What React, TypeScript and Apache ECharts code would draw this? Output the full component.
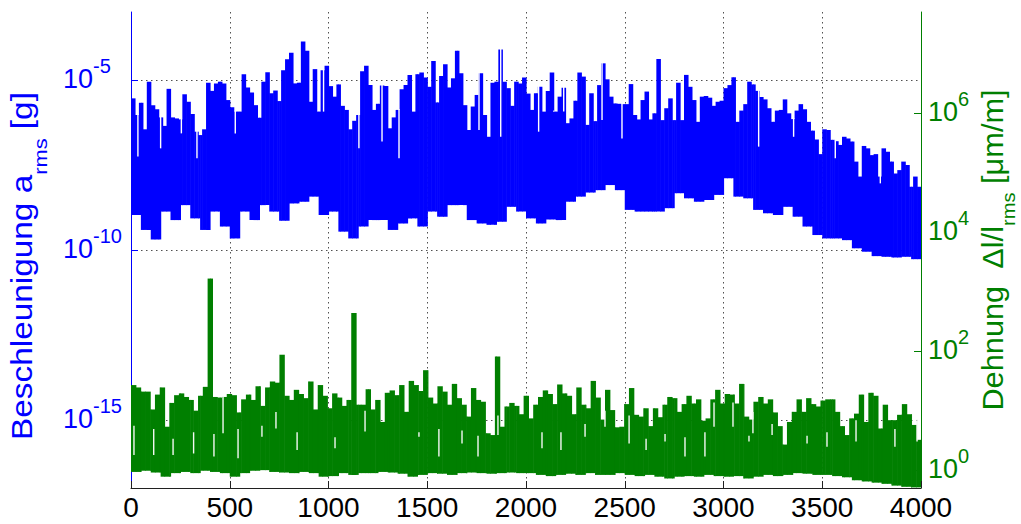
import React, { useEffect, useRef } from "react";
import * as echarts from "echarts";

// Axis ranges (log axes given as real values)
const X_MIN = 0;
const X_MAX = 4000;
const ACCEL_MIN = 1e-17;
const ACCEL_MAX = 1e-3;
const STRAIN_MIN = Math.pow(10, -0.3);
const STRAIN_MAX = Math.pow(10, 7.7);

// Tick positions
const ACCEL_TICKS = [1e-15, 1e-10, 1e-5];
const STRAIN_TICKS = [1, 1e2, 1e4, 1e6];

// log10 of a_rms [g] – upper envelope, equal steps over 0..4000
const accelUpperLog = [
  -5.54, -6.03, -5.67, -6.45, -5.05, -5.74, -5.86, -6.1, -6.35, -5.26,
  -6.1, -6.13, -6.16, -5.42, -5.64, -6.0, -6.52, -6.62, -6.45, -5.08,
  -5.32, -5.1, -5.05, -5.1, -5.59, -5.8, -5.93, -5.93, -4.83, -5.22,
  -5.37, -5.74, -6.11, -5.05, -4.77, -5.39, -5.31, -5.62, -4.71, -4.39,
  -4.2, -5.1, -5.08, -3.87, -4.14, -5.64, -4.68, -5.93, -4.71, -4.58,
  -5.18, -5.49, -5.13, -5.76, -5.88, -6.45, -6.2, -6.03, -4.74, -4.58,
  -5.15, -5.88, -5.7, -5.16, -5.18, -6.42, -6.1, -5.88, -5.27, -5.15,
  -4.85, -5.93, -4.83, -4.78, -4.93, -5.2, -4.44, -5.66, -4.88, -4.54,
  -5.22, -4.95, -4.14, -4.8, -5.74, -6.47, -5.78, -5.44, -4.8, -6.03,
  -6.67, -5.08, -5.05, -4.1, -5.05, -5.24,
  -5.76, -5.05, -5.1, -4.93, -5.4, -5.88, -5.39, -5.2, -5.93, -5.32,
  -4.78, -5.93, -5.49, -5.23, -6.27, -6.13, -5.61, -4.78, -4.9, -6.32,
  -5.39, -6.21, -5.15, -4.51, -4.98, -5.49, -5.69, -5.7, -5.71, -5.71,
  -5.12, -6.03, -6.16, -5.59, -5.34, -6.16, -5.98, -4.38, -6.18, -5.83,
  -5.54, -6.18, -5.08, -6.18, -4.85, -5.2, -5.59, -6.23, -5.49, -5.47,
  -5.52, -5.76, -5.64, -5.61, -5.24, -5.15, -4.92, -6.23, -5.9, -5.71,
  -5.05, -5.13, -5.32, -5.5, -5.57, -5.83, -6.23, -5.9, -5.88, -5.57,
  -5.98, -6.15, -5.9, -5.71, -5.86, -6.23, -6.49, -6.75, -7.18, -6.45,
  -6.47, -6.76, -6.8, -6.91, -6.67, -6.72, -6.81, -7.4, -7.84, -6.94,
  -7.01, -7.21, -7.18, -7.84, -7.01, -7.11, -7.4, -7.75, -7.65, -7.4,
  -7.5, -8.14, -7.84, -8.14,
];

// log10 of a_rms [g] – lower envelope
const accelLowerLog = [
  -8.97, -9.41, -9.69, -8.87, -9.12, -8.68, -9.07, -9.41, -8.87, -9.31,
  -9.66, -8.87, -9.12, -8.68, -8.87, -9.14, -8.63, -8.58, -8.43, -8.97,
  -8.87, -9.46, -9.66, -9.31, -9.12, -9.12, -9.41, -9.22, -9.07, -9.31,
  -8.87, -9.02, -8.68, -8.68, -9.12, -9.22, -9.26, -9.17, -8.73, -8.87,
  -9.07, -9.22, -9.1, -9.12, -8.58, -8.43, -8.31, -8.24, -8.09, -8.24,
  -8.82, -8.87, -8.87, -8.87, -8.77, -8.33, -8.48, -8.58, -8.53, -8.38,
  -7.89, -8.43, -8.48, -8.82, -8.92, -8.97, -8.73, -9.02, -9.31, -9.56,
  -9.66, -9.66, -9.71, -9.95, -10.05, -10.18, -10.2, -10.22, -10.2, -10.27,
];

// Short dropouts reaching down from the top of the acceleration trace: [x, log10 depth]
const accelDropouts = [
  [35, -7.25], [150, -7.01], [255, -6.57], [334, -7.3], [528, -6.57],
  [975, -5.93], [1154, -7.01], [1271, -6.81], [1357, -7.3], [1762, -6.47],
  [1872, -6.67], [2064, -6.52], [2140, -5.93], [2191, -5.93], [2385, -6.18],
  [2486, -6.72], [3178, -6.96], [3355, -6.67], [3566, -7.3], [3794, -8.04],
];

// log10 of Δl/l_rms [µm/m] – upper envelope
const strainUpperLog = [
  1.43, 1.39, 1.32, 1.32, 1.02, 1.27, 1.39, 0.73, 1.13, 1.26,
  1.29, 1.23, 1.18, 1.0, 1.25, 1.4, 3.22, 1.23, 1.22, 1.23,
  1.28, 1.26, 0.97, 1.19, 1.27, 1.18, 1.41, 1.08, 1.39, 1.49,
  1.47, 1.94, 1.25, 1.18, 1.35, 1.28, 1.21, 1.49, 1.02, 1.43,
  1.25, 1.04, 1.29, 1.22, 1.08, 1.18, 2.64, 1.1, 1.1, 1.36,
  1.02, 1.18, 0.81, 1.3, 1.34, 1.26, 1.43, 0.98, 1.5, 1.43,
  1.33, 1.68, 1.22, 1.12, 1.41, 1.32, 1.1, 1.45, 1.21, 1.1,
  0.9, 1.38, 1.18, 1.15, 0.62, 0.59, 1.91, 0.73, 1.07, 1.13,
  1.08, 0.94,
  1.25, 0.87, 1.1, 1.23, 1.34, 1.28, 1.11, 1.44, 1.29, 1.25,
  0.94, 1.39, 1.1, 1.04, 1.5, 1.22, 0.85, 1.35, 1.01, 0.72,
  0.73, 1.11, 1.38, 0.93, 0.9, 1.04, 0.74, 1.04, 0.89, 1.1,
  1.23, 1.21, 0.98, 1.11, 1.25, 1.12, 1.19, 0.83, 0.87, 1.19,
  1.35, 1.12, 1.28, 1.27, 1.12, 1.45, 0.9, 0.85, 1.15, 1.23,
  1.12, 1.19, 0.97, 0.74, 0.43, 0.81, 0.98, 1.19, 0.98, 1.21,
  1.11, 1.07, 1.17, 1.19, 1.19, 0.98, 0.74, 0.59, 0.87, 0.95,
  1.27, 0.81, 1.3, 1.25, 0.7, 1.1, 0.84, 0.84, 0.93, 1.11,
  0.94, 0.76, 0.51,
];

// log10 of Δl/l_rms [µm/m] – lower envelope
const strainLowerLog = [
  -0.03, -0.01, -0.04, -0.11, -0.05, -0.03, -0.05, -0.01, -0.03, -0.05,
  -0.11, -0.05, -0.01, 0.0, -0.03, -0.04, -0.05, -0.03, -0.05, -0.11,
  -0.1, -0.05, -0.08, -0.05, -0.05, -0.03, -0.04, -0.06, -0.11, -0.08,
  -0.05, -0.06, -0.08, -0.05, -0.04, -0.05, -0.06, -0.05, -0.04, -0.05,
  -0.05, -0.08, -0.1, -0.08, -0.06, -0.08, -0.05, -0.08, -0.08, -0.05,
  -0.08, -0.1, -0.08, -0.11, -0.14, -0.11, -0.1, -0.11, -0.08, -0.1,
  -0.11, -0.1, -0.14, -0.11, -0.08, -0.1, -0.08, -0.05, -0.06, -0.08,
  -0.08, -0.1, -0.12, -0.17, -0.19, -0.21, -0.23, -0.26, -0.28, -0.29,
];

// Short dropouts inside the strain trace: [x, log10 low, log10 high]
const strainDropouts = [
  [15, 0.255, 0.73], [115, 0.255, 0.675], [213, 0.255, 0.51], [317, 0.28, 0.62],
  [420, 0.23, 0.59], [466, 0.62, 1.23], [542, 0.2, 0.675], [663, 0.56, 0.73],
  [734, 0.7, 0.96], [841, 0.34, 0.62], [1033, 0.37, 0.535], [1185, 0.65, 0.98],
  [1458, 0.56, 0.62], [1559, 0.23, 0.675], [1676, 0.45, 0.65], [1757, 0.23, 0.56],
  [1858, 0.59, 0.9], [2081, 0.37, 0.62], [2177, 0.34, 0.62], [2299, 0.56, 0.76],
  [2400, 0.73, 0.98], [2522, 0.45, 0.9], [2608, 0.34, 0.51], [2704, 0.48, 0.59],
  [2805, 0.23, 0.535], [2906, 0.23, 0.62], [2952, 0.73, 1.12], [3048, 0.73, 1.12],
  [3129, 0.48, 0.56], [3149, 0.62, 0.96], [3246, 0.59, 0.76], [3423, 0.45, 0.56],
  [3524, 0.395, 0.62], [3671, 0.48, 0.82], [3868, 0.395, 0.675], [3980, 0.48, 0.84],
];

const BLUE = "#0000ff";
const GREEN = "#007f00";
const FONT = '"Liberation Sans", Arial, Helvetica, sans-serif';

function stepAt(values: number[], x: number) {
  const step = (X_MAX - X_MIN) / values.length;
  return values[Math.max(0, Math.min(values.length - 1, Math.floor((x - X_MIN) / step)))];
}

// Build [x0, x1, low, high] segments from two stepped envelopes
function buildBand(upperLog: number[], lowerLog: number[]) {
  const su = (X_MAX - X_MIN) / upperLog.length;
  const sl = (X_MAX - X_MIN) / lowerLog.length;
  const edges = new Set<number>();
  upperLog.forEach((_, i) => edges.add(+(X_MIN + i * su).toFixed(6)));
  lowerLog.forEach((_, i) => edges.add(+(X_MIN + i * sl).toFixed(6)));
  edges.add(X_MAX);
  const xs = Array.from(edges).sort((a, b) => a - b);
  const out: number[][] = [];
  for (let k = 0; k < xs.length - 1; k++) {
    const x0 = xs[k];
    const x1 = xs[k + 1];
    const mid = (x0 + x1) / 2;
    out.push([x0, x1, Math.pow(10, stepAt(lowerLog, mid)), Math.pow(10, stepAt(upperLog, mid))]);
  }
  return out;
}

function bandRenderer(color: string) {
  return (_params: any, api: any) => {
    const a = api.coord([api.value(0), api.value(3)]);
    const b = api.coord([api.value(1), api.value(2)]);
    return {
      type: "rect",
      shape: { x: a[0], y: a[1], width: b[0] - a[0] + 0.6, height: b[1] - a[1] },
      style: { fill: color },
    };
  };
}

function dropoutRenderer(fill: string) {
  return (_params: any, api: any) => {
    const a = api.coord([api.value(0), api.value(2)]);
    const b = api.coord([api.value(0), api.value(1)]);
    return {
      type: "rect",
      shape: { x: a[0] - 0.7, y: a[1] - 1, width: 1.4, height: b[1] - a[1] + 1 },
      style: { fill },
    };
  };
}

const dotted = { color: "#505050", width: 1, type: [1.5, 3.5] as any };

export default function App() {
  const ref = useRef<HTMLDivElement>(null);

  useEffect(() => {
    if (!ref.current) return;
    const chart = echarts.init(ref.current, undefined, { renderer: "svg" });

    const expLabel = (v: number) => `{b|10}{s|${Math.round(Math.log10(v))}}`;
    const expRich = (color: string) => ({
      b: { fontSize: 27, fontFamily: FONT, color, padding: [9.5, 0, 0, 0] },
      s: { fontSize: 20, fontFamily: FONT, color, verticalAlign: "top" },
    });

    chart.setOption({
      animation: false,
      backgroundColor: "#ffffff",
      grid: { left: 131, right: 100, top: 12, bottom: 36, outerBoundsMode: "none" },
      xAxis: {
        type: "value",
        min: X_MIN,
        max: X_MAX,
        interval: 500,
        axisLine: { show: true, lineStyle: { color: "#202020", width: 1 } },
        axisTick: { show: true, inside: true, length: 7, lineStyle: { color: "#202020" } },
        axisLabel: {
          color: "#000",
          fontSize: 28,
          fontFamily: FONT,
          margin: 5,
          formatter: (v: number) => String(v),
        },
        splitLine: { show: true, lineStyle: dotted },
      },
      yAxis: [
        {
          type: "log",
          logBase: 10,
          min: ACCEL_MIN,
          max: ACCEL_MAX,
          position: "left",
          axisLine: { show: true, lineStyle: { color: BLUE, width: 1 } },
          axisTick: { show: true, inside: true, length: 7, customValues: ACCEL_TICKS, lineStyle: { color: BLUE } },
          minorTick: { show: false },
          axisLabel: {
            customValues: ACCEL_TICKS,
            formatter: expLabel,
            align: "left",
            margin: 68,
            padding: [0, 0, 11.5, 0],
            rich: expRich(BLUE),
          },
          splitLine: { show: true, lineStyle: dotted },
        },
        {
          type: "log",
          logBase: 10,
          min: STRAIN_MIN,
          max: STRAIN_MAX,
          position: "right",
          axisLine: { show: true, lineStyle: { color: GREEN, width: 1 } },
          axisTick: { show: true, inside: true, length: 7, customValues: STRAIN_TICKS, lineStyle: { color: GREEN } },
          minorTick: { show: false },
          axisLabel: {
            customValues: STRAIN_TICKS,
            formatter: expLabel,
            align: "left",
            margin: 7,
            padding: [0, 0, 11.5, 0],
            rich: expRich(GREEN),
          },
          splitLine: { show: false },
        },
      ],
      series: [
        {
          name: "Beschleunigung",
          type: "custom",
          xAxisIndex: 0,
          yAxisIndex: 0,
          clip: true,
          silent: true,
          encode: { x: [0, 1], y: [2, 3] },
          data: buildBand(accelUpperLog, accelLowerLog),
          renderItem: bandRenderer(BLUE),
        },
        {
          name: "Beschleunigung Aussetzer",
          type: "custom",
          xAxisIndex: 0,
          yAxisIndex: 0,
          clip: true,
          silent: true,
          z: 3,
          encode: { x: 0, y: [1, 2] },
          data: accelDropouts.map(([x, d]) => [x, Math.pow(10, d), Math.pow(10, stepAt(accelUpperLog, x))]),
          renderItem: dropoutRenderer("#ffffff"),
        },
        {
          name: "Dehnung",
          type: "custom",
          xAxisIndex: 0,
          yAxisIndex: 1,
          clip: true,
          silent: true,
          encode: { x: [0, 1], y: [2, 3] },
          data: buildBand(strainUpperLog, strainLowerLog),
          renderItem: bandRenderer(GREEN),
        },
        {
          name: "Dehnung Aussetzer",
          type: "custom",
          xAxisIndex: 0,
          yAxisIndex: 1,
          clip: true,
          silent: true,
          z: 3,
          encode: { x: 0, y: [1, 2] },
          data: strainDropouts.map(([x, lo, hi]) => [x, Math.pow(10, lo), Math.pow(10, hi)]),
          renderItem: dropoutRenderer("#f4f8f4"),
        },
      ],
      graphic: [
        {
          type: "text",
          x: 22.5,
          y: 266,
          rotation: Math.PI / 2,
          scaleX: 1.15,
          silent: true,
          style: {
            text: "{m|Beschleunigung a}{s|rms}{m| [g]}",
            align: "center",
            verticalAlign: "middle",
            rich: {
              m: { fontSize: 29, fontFamily: FONT, fill: BLUE, lineHeight: 55 },
              s: { fontSize: 19, fontFamily: FONT, fill: BLUE, lineHeight: 19, verticalAlign: "bottom" },
            },
          },
        },
        {
          type: "text",
          x: 993,
          y: 250,
          rotation: Math.PI / 2,
          scaleX: 1.06,
          silent: true,
          style: {
            text: "{m|Dehnung  Δl/l}{s|rms}{m| [μm/m]}",
            align: "center",
            verticalAlign: "middle",
            rich: {
              m: { fontSize: 29, fontFamily: FONT, fill: GREEN, lineHeight: 50 },
              s: { fontSize: 19, fontFamily: FONT, fill: GREEN, lineHeight: 19, verticalAlign: "bottom" },
            },
          },
        },
      ],
    });

    return () => chart.dispose();
  }, []);

  return (
    <div
      ref={ref}
      style={{ position: "absolute", left: 0, top: 0, width: 1021, height: 524, background: "#fff" }}
    />
  );
}
